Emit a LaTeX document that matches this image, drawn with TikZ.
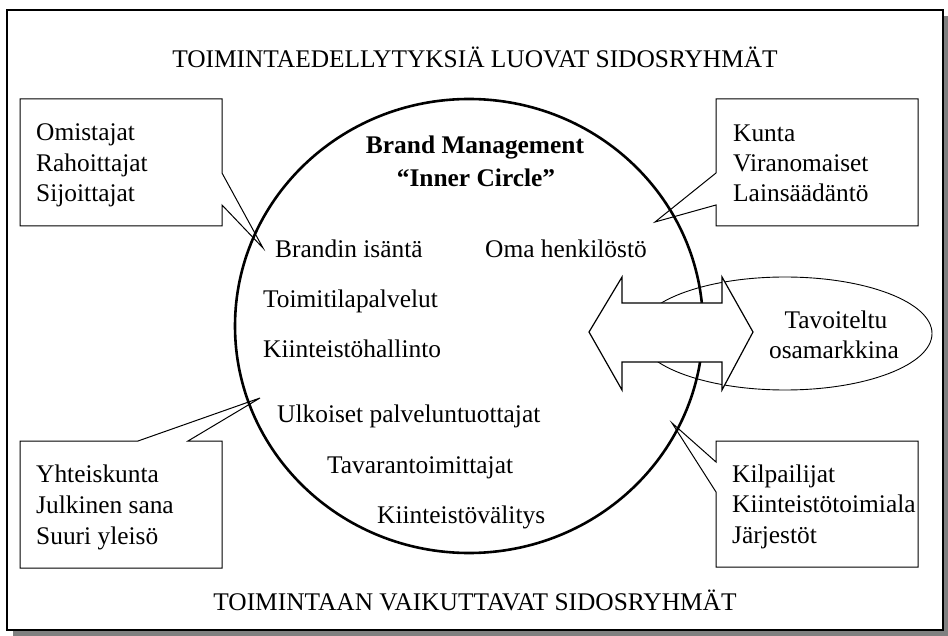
\documentclass[tikz,border=0pt]{standalone}
\usepackage{fontspec}
\setmainfont{Liberation Serif}
\begin{document}
\begin{tikzpicture}[x=1pt,y=-1pt,
  txt/.style={anchor=base west, inner sep=0pt, font=\fontsize{25.4}{30}\selectfont},
  ctxt/.style={anchor=base, inner sep=0pt, font=\fontsize{25.4}{30}\selectfont},
  btxt/.style={ctxt, font=\fontsize{25.4}{30}\selectfont\bfseries},
  callout/.style={draw, line width=1pt, line join=miter},
  thin/.style={draw, line width=1pt}]
\useasboundingbox (0,0) rectangle (948,636);

% frame with drop shadow
\fill[black!50] (13,16) rectangle (948,636);
\draw[fill=white, line width=1.7pt] (7,10) rectangle (943,630);

% inner circle
\coordinate (ic) at (469,326);
\draw[line width=2.6pt] (ic) ellipse [x radius=234pt, y radius=227pt];

% target market ellipse
\coordinate (tm) at (785,333.5);
\draw[line width=0.9pt] (tm) ellipse [x radius=147pt, y radius=56.5pt];

% double-headed block arrow
\draw[fill=white, line width=1.2pt, line join=miter]
  (589,332) -- (622,277) -- (622,303) -- (722,303) -- (722,277) -- (753,332)
  -- (722,390) -- (722,362) -- (622,362) -- (622,390) -- cycle;

% callout boxes
\draw[callout] (20,99) -- (222,99) -- (222,173) -- (263,248) -- (222,205)
  -- (222,226) -- (20,226) -- cycle;
\draw[callout] (716,99) -- (918,99) -- (918,226) -- (716,226) -- (716,205)
  -- (655,222) -- (716,173) -- cycle;
\draw[callout] (20,441) -- (138,441) -- (260,398) -- (188,441) -- (222,441)
  -- (222,568) -- (20,568) -- cycle;
\draw[callout] (716,441) -- (918,441) -- (918,567) -- (716,567) -- (716,492)
  -- (672,423) -- (716,462) -- cycle;

% headings
\node[ctxt] (top) at (475,68) {TOIMINTAEDELLYTYKSIÄ LUOVAT SIDOSRYHMÄT};
\node[ctxt] (bot) at (475,610) {TOIMINTAAN VAIKUTTAVAT SIDOSRYHMÄT};

% inner circle contents
\node[btxt] (bm) at (475,154) {Brand Management};
\node[btxt] (ic2) at (476,187) {“Inner Circle”};
\node[txt] (i1) at (275,258) {Brandin isäntä};
\node[txt] (i2) at (485,258) {Oma henkilöstö};
\node[txt] (i3) at (263,308) {Toimitilapalvelut};
\node[txt] (i4) at (263,358) {Kiinteistöhallinto};
\node[txt] (i5) at (277,422) {Ulkoiset palveluntuottajat};
\node[txt] (i6) at (327,473) {Tavarantoimittajat};
\node[txt] (i7) at (377,523) {Kiinteistövälitys};

% ellipse text
\node[ctxt] (t1) at (836,329) {Tavoiteltu};
\node[ctxt] (t2) at (834,359) {osamarkkina};

% callout texts
\node[txt] (a1) at (36,141) {Omistajat};
\node[txt] (a2) at (36,172) {Rahoittajat};
\node[txt] (a3) at (36,202) {Sijoittajat};
\node[txt] (b1) at (733,142) {Kunta};
\node[txt] (b2) at (733,172) {Viranomaiset};
\node[txt] (b3) at (733,202) {Lainsäädäntö};
\node[txt] (c1) at (36,482) {Yhteiskunta};
\node[txt] (c2) at (36,513) {Julkinen sana};
\node[txt] (c3) at (36,544) {Suuri yleisö};
\node[txt] (d1) at (732,482) {Kilpailijat};
\node[txt] (d2) at (732,512) {Kiinteistötoimiala};
\node[txt] (d3) at (732,543) {Järjestöt};
\end{tikzpicture}
\end{document}
